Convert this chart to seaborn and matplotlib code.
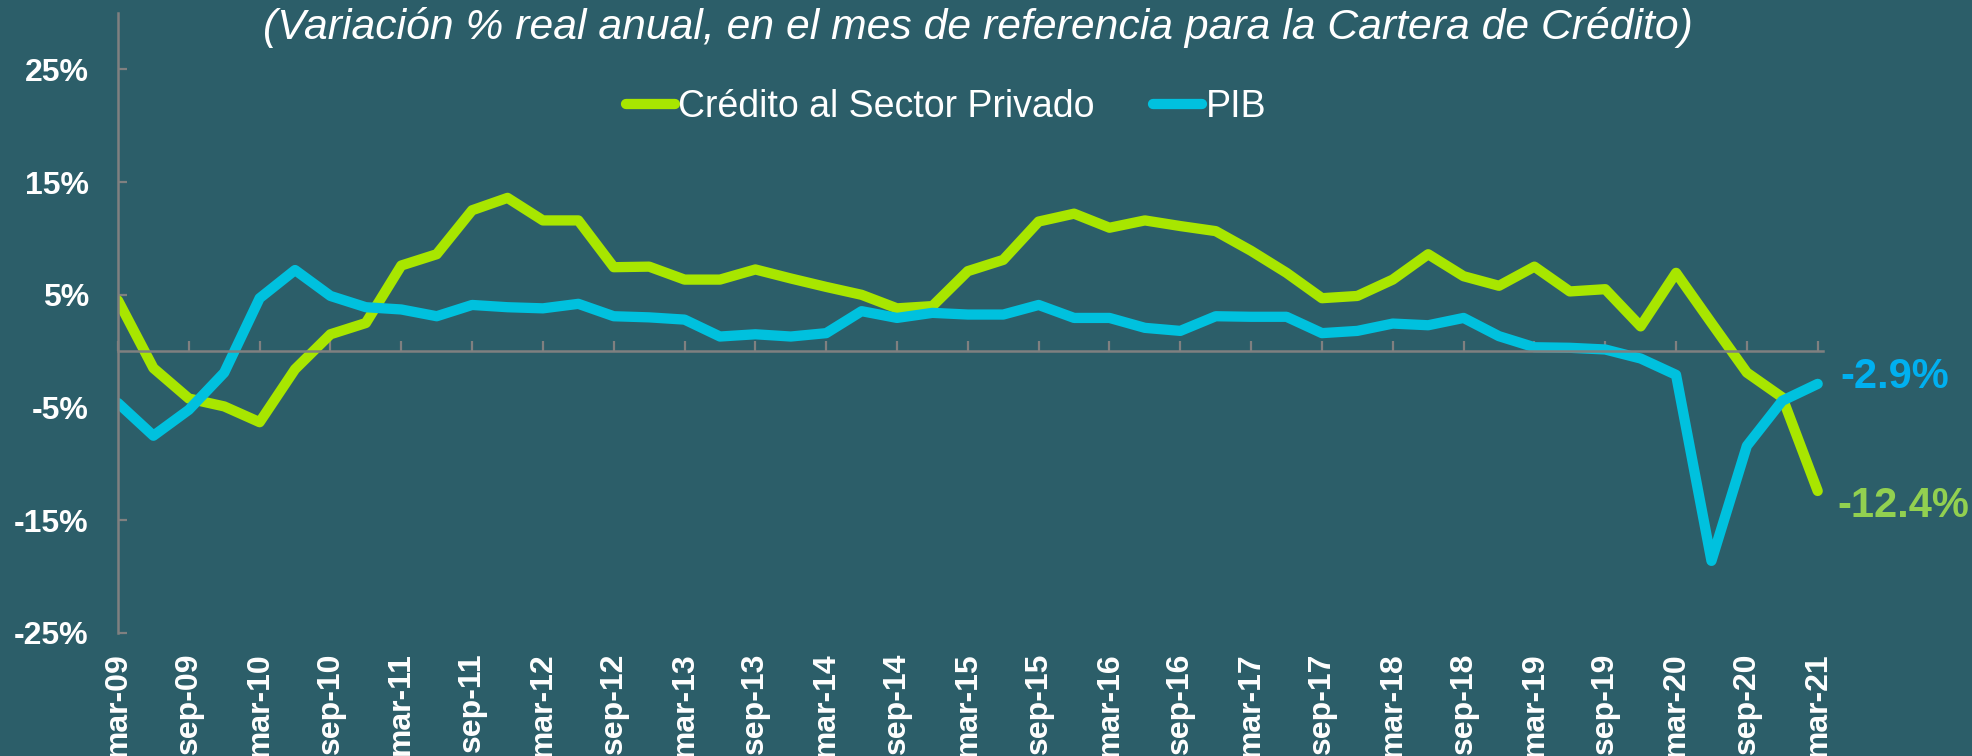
import matplotlib
matplotlib.use("Agg")
import matplotlib.pyplot as plt
import seaborn as sns
import pandas as pd
import numpy as np

# ---- data (quarterly, mar-09 .. mar-21) ----
credito = [4.5, -1.5, -4.2, -4.9, -6.3, -1.6, 1.5, 2.5, 7.6, 8.6, 12.5, 13.6, 11.6,
           11.6, 7.45, 7.5, 6.35, 6.35, 7.25, 6.45, 5.7, 5.0, 3.8, 4.0, 7.1, 8.1,
           11.5, 12.2, 10.95, 11.6, 11.1, 10.65, 8.9, 6.95, 4.7, 4.9, 6.35, 8.6,
           6.65, 5.8, 7.5, 5.3, 5.5, 2.2, 6.95, 2.5, -1.9, -4.1, -12.4]
pib = [-4.6, -7.5, -5.2, -1.9, 4.7, 7.2, 4.9, 3.9, 3.7, 3.1, 4.1, 3.9, 3.8,
       4.2, 3.1, 3.0, 2.8, 1.3, 1.5, 1.3, 1.6, 3.55, 2.95, 3.4, 3.25, 3.25,
       4.1, 2.95, 2.95, 2.07, 1.8, 3.1, 3.05, 3.05, 1.6, 1.8, 2.45, 2.3,
       2.95, 1.33, 0.35, 0.3, 0.15, -0.65, -2.1, -18.6, -8.4, -4.4, -2.9]
series_names = ["Crédito al Sector Privado", "PIB"]
tick_labels = ["mar-09", "sep-09", "mar-10", "sep-10", "mar-11", "sep-11", "mar-12",
               "sep-12", "mar-13", "sep-13", "mar-14", "sep-14", "mar-15", "sep-15",
               "mar-16", "sep-16", "mar-17", "sep-17", "mar-18", "sep-18", "mar-19",
               "sep-19", "mar-20", "sep-20", "mar-21"]
yticks = [-25, -15, -5, 5, 15, 25]
title = "(Variación % real anual, en el mes de referencia para la Cartera de Crédito)"

BG = "#2C5E69"
GREEN = "#A8E600"
BLUE = "#00C1DE"
GREEN_TXT = "#92D050"
BLUE_TXT = "#00B0F0"
AXC = "#808080"

sns.set_style("white", {"axes.facecolor": BG, "figure.facecolor": BG})
plt.rcParams["font.family"] = ["Liberation Sans", "DejaVu Sans"]

n = len(credito)
df = pd.DataFrame({
    "q": list(range(n)) * 2,
    "valor": credito + pib,
    "serie": [series_names[0]] * n + [series_names[1]] * n,
})

fig = plt.figure(figsize=(19.72, 7.56), dpi=100)
ax = fig.add_axes([118 / 1972, 1 - 633 / 756, 1705 / 1972, 620 / 756])
ax.set_facecolor(BG)

sns.lineplot(data=df, x="q", y="valor", hue="serie", hue_order=series_names,
             palette=[GREEN, BLUE], linewidth=7.4, sort=False, ax=ax,
             legend=True)
for ln in ax.lines:
    ln.set_solid_capstyle("round")
    ln.set_solid_joinstyle("round")

ax.set_xlim(0, 48.15)
ax.set_ylim(-25, 30)
ax.set_xlabel("")
ax.set_ylabel("")

# spines
for s in ["top", "right"]:
    ax.spines[s].set_visible(False)
ax.spines["left"].set_color(AXC)
ax.spines["left"].set_linewidth(1.8)
ax.spines["bottom"].set_position(("data", 0))
ax.spines["bottom"].set_color(AXC)
ax.spines["bottom"].set_linewidth(1.8)

# y ticks
ax.set_yticks(yticks)
ax.set_yticklabels([f"{v}%" for v in yticks])
ax.tick_params(axis="y", left=True, direction="in", length=6.5, width=1.6,
               color=AXC, labelsize=23, labelcolor="white", pad=21)
for t in ax.get_yticklabels():
    t.set_fontweight("bold")

# x ticks on zero line
tick_pos = list(range(0, n, 2))
ax.set_xticks(tick_pos)
ax.tick_params(axis="x", bottom=True, direction="in", length=7, width=1.6,
               color=AXC, labelbottom=False)

# labels at bottom
sec = ax.secondary_xaxis("bottom")
sec.set_xticks(tick_pos)
sec.set_xticklabels(tick_labels, rotation=90, fontsize=23, fontweight="bold",
                    color="white")
sec.tick_params(length=0, pad=14)
sec.spines["bottom"].set_visible(False)

# end labels
ax.annotate(f"{credito[-1]:.1f}%", xy=(n - 1, credito[-1]), xytext=(14, -11),
            textcoords="offset points", ha="left", va="center", fontsize=30,
            fontweight="bold", color=GREEN_TXT)
ax.annotate(f"{pib[-1]:.1f}%", xy=(n - 1, pib[-1]), xytext=(16, 5),
            textcoords="offset points", ha="left", va="center", fontsize=30,
            fontweight="bold", color=BLUE_TXT)

# legend
handles, labels = ax.get_legend_handles_labels()
if ax.get_legend() is not None:
    ax.get_legend().remove()
leg = fig.legend(handles, labels, loc="center", bbox_to_anchor=(946 / 1972, 1 - 107 / 756),
                 ncol=2, frameon=False, fontsize=27, handlelength=1.3,
                 handletextpad=0.1, columnspacing=1.55, labelcolor="white")
for h in leg.legend_handles:
    h.set_linewidth(7.4)
    h.set_solid_capstyle("round")

# title
fig.text(978 / 1972, 1 - 27 / 756, title, ha="center", va="center",
         fontsize=30.7, style="italic", color="white")

fig.savefig("out.png", dpi=100, facecolor=BG)
